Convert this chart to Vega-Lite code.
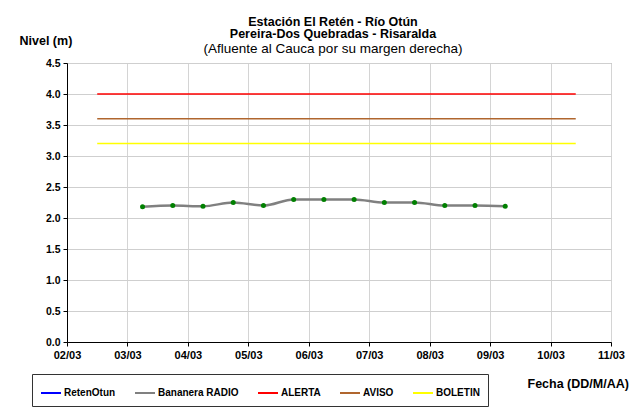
{
  "$schema": "https://vega.github.io/schema/vega-lite/v6.json",
  "width": 544,
  "height": 279,
  "autosize": {"type": "none"},
  "padding": {"left": 67, "top": 63, "right": 30, "bottom": 69},
  "background": "white",
  "title": {
    "text": ["Estación El Retén - Río Otún", "Pereira-Dos Quebradas - Risaralda"],
    "subtitle": "(Afluente al Cauca por su margen derecha)",
    "anchor": "middle",
    "frame": "group",
    "dx": -6,
    "offset": -21,
    "font": "Liberation Sans",
    "fontSize": 12.5,
    "fontWeight": "bold",
    "lineHeight": 12.5,
    "color": "black",
    "subtitleFont": "Liberation Sans",
    "subtitleFontSize": 13.5,
    "subtitleColor": "black",
    "subtitlePadding": 1
  },
  "datasets": {
    "series": [
      {"serie": "Bananera RADIO", "fecha": "2012-03-03T06:00", "nivel": 2.18},
      {"serie": "Bananera RADIO", "fecha": "2012-03-03T18:00", "nivel": 2.2},
      {"serie": "Bananera RADIO", "fecha": "2012-03-04T06:00", "nivel": 2.19},
      {"serie": "Bananera RADIO", "fecha": "2012-03-04T18:00", "nivel": 2.25},
      {"serie": "Bananera RADIO", "fecha": "2012-03-05T06:00", "nivel": 2.2},
      {"serie": "Bananera RADIO", "fecha": "2012-03-05T18:00", "nivel": 2.3},
      {"serie": "Bananera RADIO", "fecha": "2012-03-06T06:00", "nivel": 2.3},
      {"serie": "Bananera RADIO", "fecha": "2012-03-06T18:00", "nivel": 2.3},
      {"serie": "Bananera RADIO", "fecha": "2012-03-07T06:00", "nivel": 2.25},
      {"serie": "Bananera RADIO", "fecha": "2012-03-07T18:00", "nivel": 2.25},
      {"serie": "Bananera RADIO", "fecha": "2012-03-08T06:00", "nivel": 2.2},
      {"serie": "Bananera RADIO", "fecha": "2012-03-08T18:00", "nivel": 2.2},
      {"serie": "Bananera RADIO", "fecha": "2012-03-09T06:00", "nivel": 2.19},
      {"serie": "ALERTA", "fecha": "2012-03-02T12:00", "nivel": 4.0},
      {"serie": "ALERTA", "fecha": "2012-03-10T10:00", "nivel": 4.0},
      {"serie": "AVISO", "fecha": "2012-03-02T12:00", "nivel": 3.6},
      {"serie": "AVISO", "fecha": "2012-03-10T10:00", "nivel": 3.6},
      {"serie": "BOLETIN", "fecha": "2012-03-02T12:00", "nivel": 3.2},
      {"serie": "BOLETIN", "fecha": "2012-03-10T10:00", "nivel": 3.2}
    ]
  },
  "data": {"name": "series"},
  "encoding": {
    "x": {
      "field": "fecha",
      "type": "temporal",
      "scale": {"domain": [{"year": 2012, "month": 3, "date": 2}, {"year": 2012, "month": 3, "date": 11}], "nice": false},
      "axis": {
        "title": "Fecha (DD/M/AA)",
        "format": "%d/%m",
        "values": [
          {"year": 2012, "month": 3, "date": 2},
          {"year": 2012, "month": 3, "date": 3},
          {"year": 2012, "month": 3, "date": 4},
          {"year": 2012, "month": 3, "date": 5},
          {"year": 2012, "month": 3, "date": 6},
          {"year": 2012, "month": 3, "date": 7},
          {"year": 2012, "month": 3, "date": 8},
          {"year": 2012, "month": 3, "date": 9},
          {"year": 2012, "month": 3, "date": 10},
          {"year": 2012, "month": 3, "date": 11}
        ],
        "labelFont": "Liberation Sans",
        "labelFontSize": 11,
        "labelFontWeight": "bold",
        "labelColor": "black",
        "labelPadding": 3,
        "labelFlush": false,
        "labelOverlap": false,
        "domainColor": "black",
        "tickColor": "black",
        "tickSize": 4,
        "grid": true,
        "gridColor": "#d4d4d4",
        "gridWidth": 1,
        "titleFont": "Liberation Sans",
        "titleFontSize": 12.5,
        "titleFontWeight": "bold",
        "titleColor": "black",
        "titleAlign": "left",
        "titleAnchor": "start",
        "titleBaseline": "middle",
        "titleX": 460,
        "titleY": 41
      }
    },
    "y": {
      "field": "nivel",
      "type": "quantitative",
      "scale": {"domain": [0, 4.5], "nice": false, "zero": true},
      "axis": {
        "title": "Nivel (m)",
        "values": [0, 0.5, 1, 1.5, 2, 2.5, 3, 3.5, 4, 4.5],
        "format": ".1f",
        "labelFont": "Liberation Sans",
        "labelFontSize": 10.5,
        "labelFontWeight": "bold",
        "labelColor": "black",
        "labelPadding": 3,
        "labelFlush": false,
        "domainColor": "black",
        "tickColor": "black",
        "tickSize": 4,
        "grid": true,
        "gridColor": "#cfcfcf",
        "gridWidth": 1,
        "titleFont": "Liberation Sans",
        "titleFontSize": 12.5,
        "titleFontWeight": "bold",
        "titleColor": "black",
        "titleAngle": 0,
        "titleAlign": "left",
        "titleBaseline": "middle",
        "titleX": -48,
        "titleY": -23
      }
    },
    "color": {
      "field": "serie",
      "type": "nominal",
      "scale": {
        "domain": ["RetenOtun", "Bananera RADIO", "ALERTA", "AVISO", "BOLETIN"],
        "range": ["#0000ff", "#808080", "#ff0000", "#b0662e", "#ffff00"]
      },
      "legend": {
        "title": null,
        "orient": "none",
        "direction": "horizontal",
        "legendX": -35,
        "legendY": 311,
        "symbolType": "stroke",
        "symbolSize": 400,
        "symbolStrokeWidth": 2,
        "labelFont": "Liberation Sans",
        "labelFontSize": 10,
        "labelFontWeight": "bold",
        "labelColor": "black",
        "labelOffset": 2,
        "columnPadding": 15,
        "padding": 8,
        "strokeColor": "#333333"
      }
    }
  },
  "layer": [
    {
      "mark": {"type": "line", "strokeWidth": 1.5},
      "transform": [{"filter": "datum.serie !== 'Bananera RADIO'"}]
    },
    {
      "mark": {"type": "line", "strokeWidth": 2.5, "interpolate": "monotone"},
      "transform": [{"filter": "datum.serie === 'Bananera RADIO'"}]
    },
    {
      "mark": {"type": "circle", "size": 25, "opacity": 1},
      "transform": [{"filter": "datum.serie === 'Bananera RADIO'"}],
      "encoding": {"color": {"value": "#008000"}}
    }
  ],
  "config": {
    "view": {"stroke": "#999999", "strokeWidth": 1}
  }
}
